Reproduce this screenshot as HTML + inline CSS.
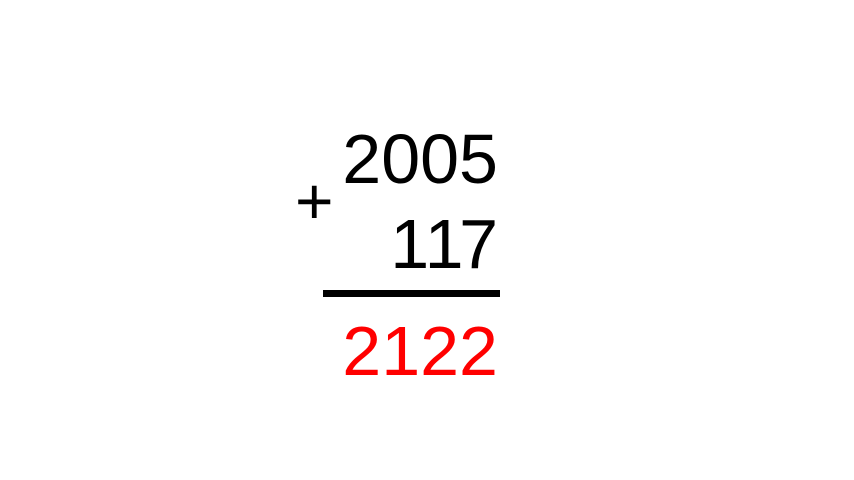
<!DOCTYPE html>
<html><head><meta charset="utf-8"><style>
html,body{margin:0;padding:0;background:#fff;}
#c{position:relative;width:854px;height:480px;overflow:hidden;font-family:"Liberation Sans",Arial,sans-serif;font-kerning:none;}
.n{position:absolute;right:356px;font-size:70px;line-height:70px;white-space:nowrap;}
</style></head><body>
<div id="c">
<div class="n" style="top:124px;color:#000">2005</div>
<div style="position:absolute;left:295px;top:168px;font-size:66px;line-height:66px;color:#000">+</div>
<div class="n" style="top:209px;right:360.5px;letter-spacing:-4.5px;color:#000">117</div>
<div style="position:absolute;left:323px;top:290px;width:177px;height:7px;background:#000"></div>
<div class="n" style="top:316px;color:#ff0000">2122</div>
</div>
</body></html>
